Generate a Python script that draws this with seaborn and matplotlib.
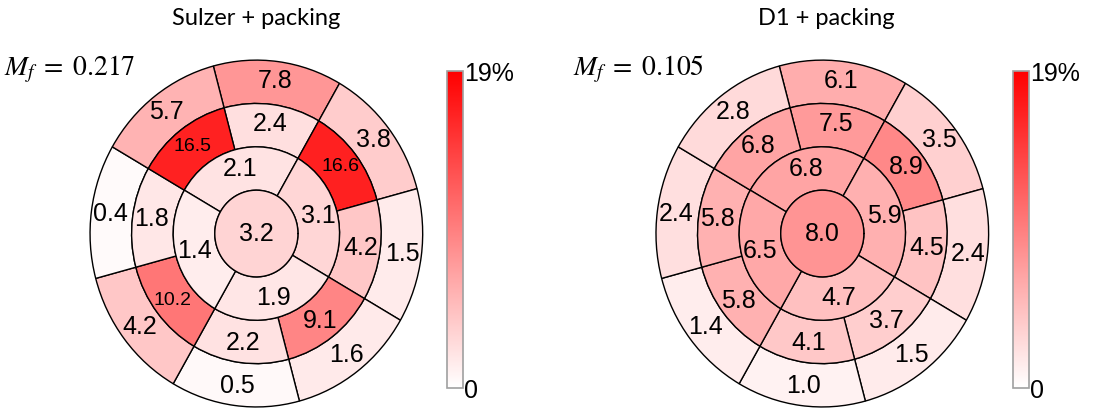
import numpy as np
import matplotlib
import matplotlib.pyplot as plt
import seaborn as sns

matplotlib.use('Agg')

# values per segment, clockwise starting with the top segment
sulzer_outer = [7.8, 3.8, 1.5, 1.6, 0.5, 4.2, 0.4, 5.7]
sulzer_middle = [2.4, 16.6, 4.2, 9.1, 2.2, 10.2, 1.8, 16.5]
sulzer_inner = [2.1, 3.1, 1.9, 1.4]
sulzer_apex = 3.2

d1_outer = [6.1, 3.5, 2.4, 1.5, 1.0, 1.4, 2.4, 2.8]
d1_middle = [7.5, 8.9, 4.5, 3.7, 4.1, 5.8, 5.8, 6.8]
d1_inner = [6.8, 5.9, 4.7, 6.5]
d1_apex = 8.0

titles = ['Sulzer + packing', 'D1 + packing']
mf_values = ['0.217', '0.105']
vmax = 19

sns.set_style('white')
plt.rcParams['font.family'] = ['Liberation Sans', 'DejaVu Sans']
plt.rcParams['text.color'] = 'black'
plt.rcParams['ytick.color'] = 'black'
cmap = sns.blend_palette(['white', '#ff0000'], as_cmap=True)
norm = matplotlib.colors.Normalize(0, vmax)

fig = plt.figure(figsize=(11.2, 4.09), dpi=100)


def bullseye(ax, outer, middle, inner, apex):
    ang8 = np.deg2rad(82.5 - 45 * np.arange(8))
    ang4 = np.deg2rad(105 - 90 * np.arange(4))
    rings = [(outer, ang8, 0.75, 45), (middle, ang8, 0.5, 45), (inner, ang4, 0.25, 90)]
    for vals, ang, bottom, w in rings:
        ax.bar(ang, 0.25, width=np.deg2rad(w), bottom=bottom,
               color=cmap(norm(np.array(vals))), edgecolor='black', linewidth=1.0,
               clip_on=False)
        for a, v in zip(ang, vals):
            fs = 14 if v >= 10 else 18
            ax.text(a, bottom + 0.135, f'{v:.1f}', ha='center', va='center', fontsize=fs)
    # apex disc
    ax.bar(0, 0.25, width=2 * np.pi, bottom=0, color=cmap(norm(apex)), linewidth=0)
    t = np.linspace(0, 2 * np.pi, 400)
    ax.plot(t, np.full_like(t, 0.25), color='black', lw=1.0)
    ax.text(0, 0, f'{apex:.1f}', ha='center', va='center', fontsize=18)
    ax.set_ylim(0, 1)
    ax.set_aspect('auto')
    ax.set_axis_off()


data = [(sulzer_outer, sulzer_middle, sulzer_inner, sulzer_apex),
        (d1_outer, d1_middle, d1_inner, d1_apex)]
ax_left = [0.0804, 0.5857]
cb_left = [0.399, 0.9045]
title_x = [0.229, 0.738]
mf_x = [0.004, 0.512]

for i in range(2):
    ax = fig.add_axes([ax_left[i], 0.005, 0.297, 0.848], projection='polar')
    bullseye(ax, *data[i])

    cax = fig.add_axes([cb_left[i], 0.051, 0.0143, 0.775])
    sm = matplotlib.cm.ScalarMappable(norm=norm, cmap=cmap)
    cb = fig.colorbar(sm, cax=cax)
    cb.outline.set_edgecolor('#a0a0a0')
    cb.outline.set_linewidth(1.2)
    cb.set_ticks([0, vmax])
    cb.set_ticklabels(['0', '19%'], fontsize=18)
    cax.tick_params(length=0, pad=1)

    fig.text(title_x[i], 0.955, titles[i], ha='center', va='center',
             fontsize=17, family='Lato')
    fig.text(mf_x[i], 0.83, rf'$M_f\;=\;{mf_values[i]}$', ha='left', va='center',
             fontsize=20, math_fontfamily='stix')

fig.savefig('out.png', dpi=100)
